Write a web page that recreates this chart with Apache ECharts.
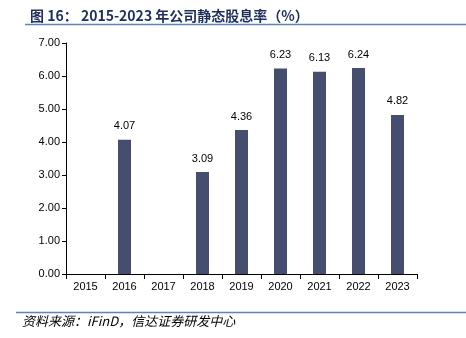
<!DOCTYPE html>
<html><head><meta charset="utf-8">
<script src="https://cdn.jsdelivr.net/npm/echarts@6/dist/echarts.min.js"></script>
<style>html,body{margin:0;padding:0;background:#fff;}#c{width:466px;height:338px;}</style>
</head><body><div id="c"></div>
<script>
var categories = ['2015','2016','2017','2018','2019','2020','2021','2022','2023'];
var yieldValues = [null, 4.07, null, 3.09, 4.36, 6.23, 6.13, 6.24, 4.82];
var titleText = '图 16： 2015-2023 年公司静态股息率（%）';
var sourceText = '资料来源：iFinD，信达证券研发中心';

var chart = echarts.init(document.getElementById('c'));
chart.setOption({
  animation: false,
  backgroundColor: '#fff',
  title: {
    text: titleText, left: 25, top: 4,
    textStyle: {fontSize: 14, fontWeight: 'bold', color: '#1f2f5c', fontFamily: 'Noto Sans CJK SC'}
  },
  graphic: [
    {type: 'line', shape: {x1: 25, y1: 24.5, x2: 466, y2: 24.5}, style: {stroke: '#5b84b8', lineWidth: 1.5}},
    {type: 'line', shape: {x1: 16, y1: 312.5, x2: 466, y2: 312.5}, style: {stroke: '#5b84b8', lineWidth: 1.5}},
    {type: 'text', left: 22, top: 315, style: {text: sourceText, font: 'italic 13px "Noto Sans CJK SC"', fill: '#000'}}
  ],
  grid: {left: 66, right: 49, top: 43, bottom: 64},
  xAxis: {
    type: 'category', data: categories,
    axisLine: {lineStyle: {color: '#000', width: 1}},
    axisTick: {show: true, alignWithLabel: false, length: 5, lineStyle: {color: '#000'}},
    axisLabel: {color: '#000', fontSize: 11, fontFamily: 'Liberation Sans', margin: 7}
  },
  yAxis: {
    type: 'value', min: 0, max: 7, interval: 1,
    axisLine: {show: true, lineStyle: {color: '#000'}},
    axisTick: {show: true, length: 4, inside: false, lineStyle: {color: '#000'}},
    splitLine: {show: false},
    axisLabel: {color: '#000', fontSize: 11, fontFamily: 'Liberation Sans', margin: 6,
      formatter: function(v){return v.toFixed(2);}}
  },
  series: [{
    type: 'bar', data: yieldValues, barWidth: 13,
    itemStyle: {color: '#454e6e'},
    label: {show: true, position: 'top', color: '#000', fontSize: 11, fontFamily: 'Liberation Sans', distance: 8,
      formatter: function(p){return p.value.toFixed(2);}}
  }]
});
</script></body></html>
